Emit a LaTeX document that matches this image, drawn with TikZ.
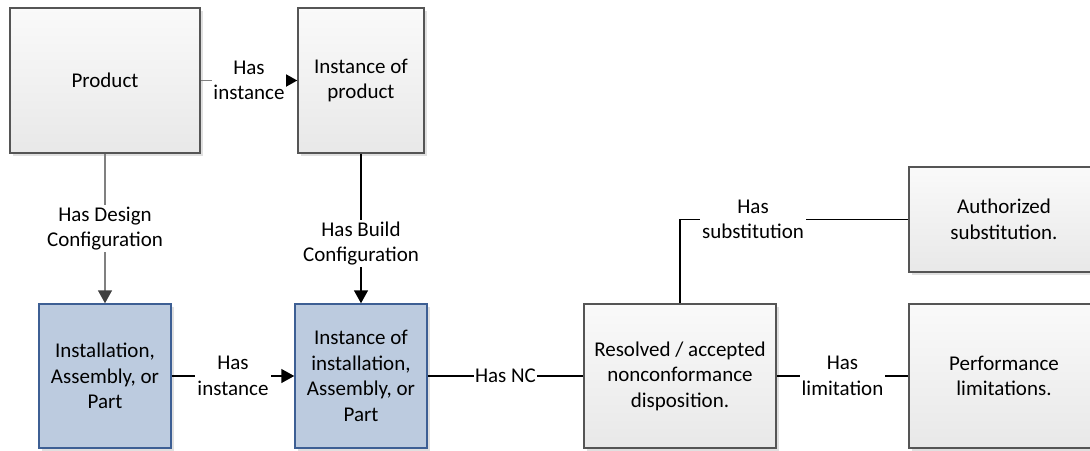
\documentclass[tikz,border=0pt]{standalone}
\usepackage{fontspec}
\setmainfont{Carlito}
\usetikzlibrary{arrows.meta,shadows}
\definecolor{boxline}{HTML}{555555}
\definecolor{bluefill}{HTML}{BCCBDF}
\definecolor{blueline}{HTML}{3D5F94}
\definecolor{greyline}{HTML}{808080}
\definecolor{greytip}{HTML}{404040}
\begin{document}
\begin{tikzpicture}[x=1pt,y=-1pt,
  every node/.style={font=\fontsize{21}{25.5}\selectfont, align=center},
  greybox/.style={draw=boxline, line width=1.5pt, top color=white!98!black,
    bottom color=white!91!black, inner sep=0pt,
    general shadow={fill=black!12, shadow xshift=3pt, shadow yshift=-3pt}},
  bluebox/.style={draw=blueline, line width=1.5pt, fill=bluefill, inner sep=0pt,
    general shadow={fill=black!12, shadow xshift=3pt, shadow yshift=-3pt}},
  link/.style={line width=1.5pt, draw=black},
  greylink/.style={line width=1.5pt, draw=greyline},
  tip/.style={-{Triangle[length=13pt,width=14pt]}},
  lbl/.style={fill=white, inner sep=2pt}]
\clip (0,0) rectangle (1090,450);
\fill[white] (0,0) rectangle (1090,450);

% boxes
\node[greybox, minimum width=190pt, minimum height=145pt] (prod) at (105,80.5) {Product};
\node[greybox, minimum width=126pt, minimum height=145pt] (iprod) at (361,80.5) {Instance of\\product};
\node[bluebox, minimum width=132pt, minimum height=144pt] (iap) at (105,376) {Installation,\\Assembly, or\\Part};
\node[bluebox, minimum width=132pt, minimum height=144pt] (iiap) at (361,376) {Instance of\\installation,\\Assembly, or\\Part};
\node[greybox, minimum width=192pt, minimum height=144pt] (nc) at (680,376) {Resolved / accepted\\nonconformance\\disposition.};
\node[greybox, minimum width=190pt, minimum height=105pt] (subst) at (1004,219.5) {Authorized\\substitution.};
\node[greybox, minimum width=190pt, minimum height=144pt] (perf) at (1004,376) {Performance\\limitations.};

% connectors
\draw[greylink, -{Triangle[length=12pt,width=13pt,color=black]}] (prod.east) -- node[lbl, inner sep=1pt] {Has\\instance} (iprod.west);
\draw[greylink, -{Triangle[length=13pt,width=14pt,color=greytip]}] (prod.south) -- node[lbl] {Has Design\\Configuration} (iap.north);
\draw[link, tip] (iprod.south) -- node[lbl, pos=0.6] {Has Build\\Configuration} (iiap.north);
\draw[link, tip] (iap.east) -- node[lbl] {Has\\instance} (iiap.west);
\draw[link] (iiap.east) -- node[lbl, inner sep=1pt] {Has NC} (nc.west);
\draw[link] (nc.north) |- node[lbl, pos=0.66] {Has\\substitution} (subst.west);
\draw[link] (nc.east) -- node[lbl] {Has\\limitation} (perf.west);
\end{tikzpicture}
\end{document}
